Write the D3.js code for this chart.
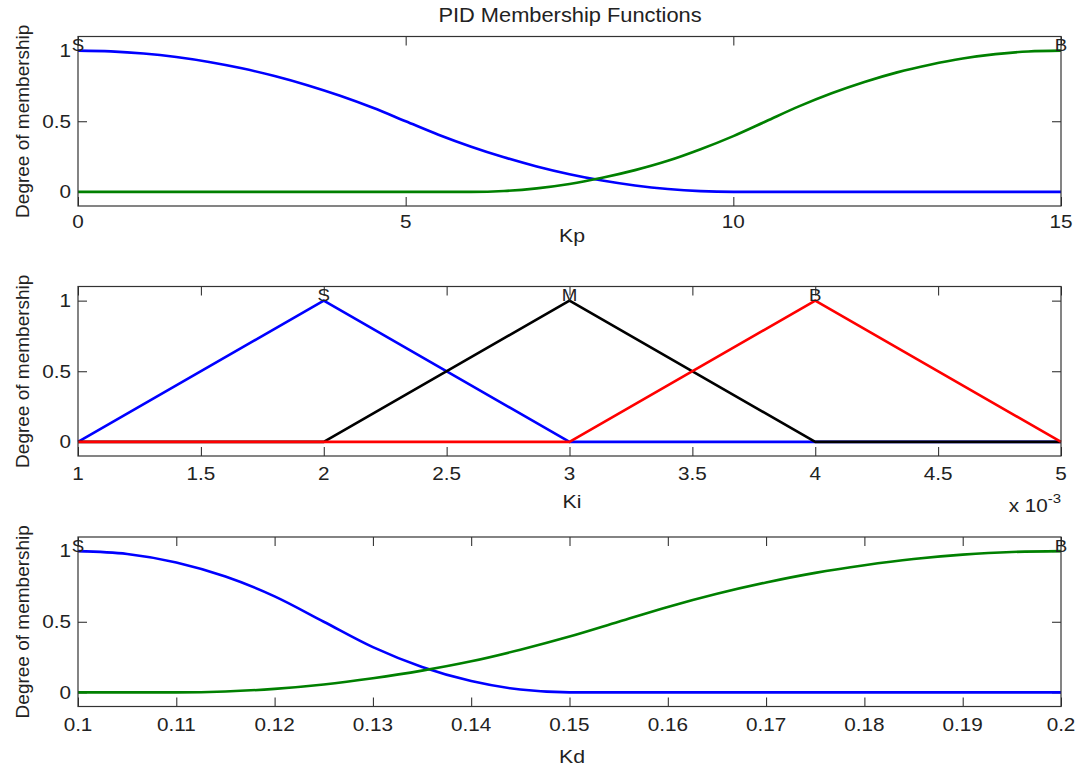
<!DOCTYPE html>
<html><head><meta charset="utf-8">
<script src="https://cdn.jsdelivr.net/npm/d3@7"></script>
<style>html,body{margin:0;padding:0;background:#fff;}svg{display:block;}</style>
</head><body>
<script>
// ---------- data ----------
const title = "PID Membership Functions";
const yLabel = "Degree of membership";

// Panel 1: Kp
const kpX = [0,0.5,1,1.5,2,2.5,3,3.5,4,4.5,5,5.5,6,6.5,7,7.5,8,8.5,9,9.5,10,10.5,11,11.5,12,12.5,13,13.5,14,14.5,15];
const kpS = [1,0.995,0.98,0.955,0.92,0.875,0.82,0.755,0.68,0.595,0.5,0.405,0.32,0.245,0.18,0.125,0.08,0.045,0.02,0.005,0,0,0,0,0,0,0,0,0,0,0];
const kpB = [0,0,0,0,0,0,0,0,0,0,0,0,0,0.006,0.025,0.056,0.1,0.154,0.22,0.302,0.395,0.5,0.605,0.698,0.778,0.846,0.9,0.944,0.975,0.994,1];
const kpTicks = [0,5,10,15];

// Panel 2: Ki
const kiX = [0.001,0.002,0.003,0.004,0.005];
const kiS = [0,1,0,0,0];
const kiM = [0,0,1,0,0];
const kiB = [0,0,0,1,0];
const kiTicks = [0.001,0.0015,0.002,0.0025,0.003,0.0035,0.004,0.0045,0.005];

// Panel 3: Kd
const kdX = [0.1,0.105,0.11,0.115,0.12,0.125,0.13,0.135,0.14,0.145,0.15,0.155,0.16,0.165,0.17,0.175,0.18,0.185,0.19,0.195,0.2];
const kdS = [1,0.98,0.92,0.82,0.68,0.5,0.32,0.18,0.08,0.02,0,0,0,0,0,0,0,0,0,0,0];
const kdB = [0,0,0,0.006,0.025,0.056,0.1,0.154,0.22,0.302,0.395,0.5,0.605,0.698,0.778,0.846,0.9,0.944,0.975,0.994,1];
const kdTicks = [0.1,0.11,0.12,0.13,0.14,0.15,0.16,0.17,0.18,0.19,0.2];

const yTicks = [0,0.5,1];

// ---------- drawing ----------
const W = 1080, H = 767;
const svg = d3.select("body").append("svg").attr("width", W).attr("height", H);
const FONT = "Liberation Sans, Arial, Helvetica, sans-serif";
const TXT = "#222";
const SX = 1.15;

function addText(g, x, y, str, opts = {}) {
  return g.append("text")
    .attr("transform", `translate(${x},${y}) scale(${opts.sx || SX},1)`)
    .attr("font-family", FONT)
    .attr("font-size", opts.size || 18)
    .attr("fill", opts.fill || TXT)
    .attr("text-anchor", opts.anchor || "middle")
    .text(str);
}

const L = 78, R = 1061, PH = 169.5;

function panel(cfg) {
  const top = cfg.top, bottom = top + PH;
  const x = d3.scaleLinear().domain(cfg.domain).range([L, R]);
  const y = d3.scaleLinear().domain([-0.1, 1.1]).range([bottom, top]);
  const g = svg.append("g");

  const tickLen = 9;
  const axB = d3.axisTop(x).tickValues(cfg.ticks).tickSize(tickLen).tickFormat("");
  const axT = d3.axisBottom(x).tickValues(cfg.ticks).tickSize(tickLen).tickFormat("");
  const axL = d3.axisRight(y).tickValues(yTicks).tickSize(tickLen).tickFormat("");
  const axR = d3.axisLeft(y).tickValues(yTicks).tickSize(tickLen).tickFormat("");
  [[axB, `translate(0,${bottom})`], [axT, `translate(0,${top})`],
   [axL, `translate(${L},0)`], [axR, `translate(${R},0)`]].forEach(([ax, tr]) => {
    const a = g.append("g").attr("transform", tr).call(ax);
    a.select(".domain").remove();
    a.selectAll("line").attr("stroke", "#222").attr("stroke-width", 1);
  });

  const line = d3.line().x(d => x(d[0])).y(d => y(d[1]))
    .curve(cfg.curve || d3.curveLinear);
  cfg.series.forEach(s => {
    g.append("path")
      .datum(cfg.xs.map((v, i) => [v, s.values[i]]))
      .attr("d", line)
      .attr("fill", "none")
      .attr("stroke", s.color)
      .attr("stroke-width", 2.6)
      .attr("stroke-linejoin", "round");
  });

  g.append("rect").attr("x", L).attr("y", top).attr("width", R - L).attr("height", PH)
    .attr("fill", "none").attr("stroke", "#333").attr("stroke-width", 1.2);

  cfg.series.forEach(s => {
    const i = s.values.indexOf(1);
    addText(g, x(cfg.xs[i]), y(1) + 0.5, s.name, { size: 17, sx: 1.1 });
  });

  cfg.ticks.forEach(t => {
    addText(g, x(t), bottom + cfg.tickOff, cfg.fmt(t));
  });
  yTicks.forEach(t => {
    addText(g, 71, y(t) + 6.3, d3.format("~g")(t), { anchor: "end" });
  });

  addText(g, 572, bottom + cfg.labOff, cfg.xlabel, { size: 18.5 });

  g.append("text")
    .attr("transform", `translate(29,${(top + bottom) / 2}) rotate(-90)`)
    .attr("font-family", FONT).attr("font-size", 19).attr("fill", TXT)
    .attr("text-anchor", "middle").text(yLabel);
  return { g, x, y, top, bottom };
}

addText(svg, 570, 22, title, { size: 19.5, sx: 1.12 });

panel({
  top: 36.5, domain: [0, 15], ticks: kpTicks, xs: kpX, fmt: d3.format("~g"),
  xlabel: "Kp", tickOff: 22, labOff: 35.5, curve: d3.curveMonotoneX,
  series: [{ name: "S", values: kpS, color: "#0000ff" },
           { name: "B", values: kpB, color: "#008000" }]
});

const p2 = panel({
  top: 286.5, domain: [0.001, 0.005], ticks: kiTicks, xs: kiX,
  fmt: t => d3.format("~g")(+(t * 1000).toFixed(4)),
  xlabel: "Ki", tickOff: 23.5, labOff: 52, curve: d3.curveLinear,
  series: [{ name: "S", values: kiS, color: "#0000ff" },
           { name: "M", values: kiM, color: "#000000" },
           { name: "B", values: kiB, color: "#ff0000" }]
});
const ex = p2.g.append("text")
  .attr("transform", `translate(1061,511.5) scale(1.15,1)`)
  .attr("font-family", FONT).attr("fill", TXT).attr("text-anchor", "end");
ex.append("tspan").attr("font-size", 18).text("x 10");
ex.append("tspan").attr("font-size", 13).attr("dy", -9).text("-3");

panel({
  top: 537, domain: [0.1, 0.2], ticks: kdTicks, xs: kdX, fmt: d3.format("~g"),
  xlabel: "Kd", tickOff: 24, labOff: 56.5, curve: d3.curveMonotoneX,
  series: [{ name: "S", values: kdS, color: "#0000ff" },
           { name: "B", values: kdB, color: "#008000" }]
});
</script>
</body></html>
